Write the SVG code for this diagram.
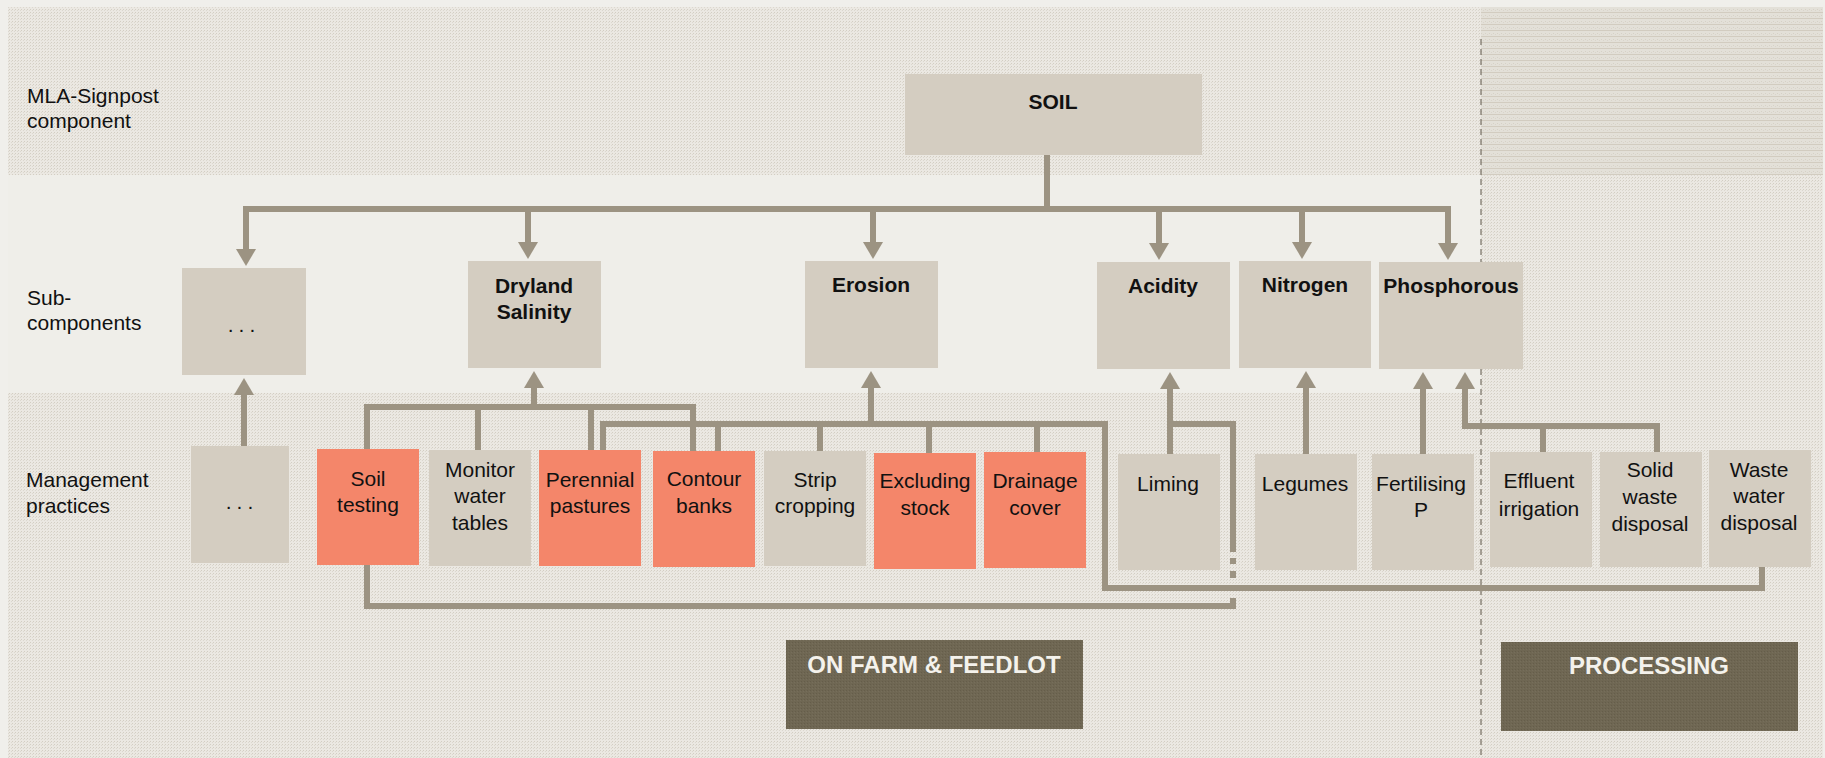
<svg xmlns="http://www.w3.org/2000/svg" width="1825" height="758" viewBox="0 0 1825 758">
<defs>
<pattern id="tex" width="3" height="3" patternUnits="userSpaceOnUse">
<rect width="3" height="3" fill="#ebe8e2"/>
<rect x="0" y="0" width="1" height="1" fill="#d3cec3"/>
<rect x="2" y="1" width="1" height="1" fill="#dcd8cf"/>
</pattern>
<pattern id="tex2" width="4" height="6" patternUnits="userSpaceOnUse">
<rect width="4" height="6" fill="#e3e0d8"/>
<rect x="0" y="0" width="4" height="1" fill="#d2ccc0"/>
<rect x="1" y="3" width="1" height="1" fill="#d6d1c6"/>
<rect x="3" y="4" width="1" height="1" fill="#d9d4ca"/>
</pattern>
<pattern id="texd" width="3" height="3" patternUnits="userSpaceOnUse">
<rect width="3" height="3" fill="#6f6753"/>
<rect x="0" y="0" width="1" height="1" fill="#655d4a"/>
<rect x="2" y="1" width="1" height="1" fill="#766e5b"/>
</pattern>
<marker id="ah" viewBox="0 0 17 20" refX="1" refY="10" markerWidth="17" markerHeight="20" markerUnits="userSpaceOnUse" orient="auto">
<path d="M0,0 L17,10 L0,20 z" fill="#9c9382"/>
</marker>
<style>
.gray{fill:#d4cdc1}
.orange{fill:#f4866a}
.dark{fill:url(#texd)}
.t{font-family:"Liberation Sans",Arial,Helvetica,sans-serif;font-size:21px;fill:#111;text-anchor:middle}
.b{font-weight:bold}
.side{font-family:"Liberation Sans",Arial,Helvetica,sans-serif;font-size:21px;fill:#111}
.w{font-family:"Liberation Sans",Arial,Helvetica,sans-serif;font-size:24px;font-weight:bold;fill:#f4f2ec;text-anchor:middle}
.c{fill:none;stroke:#9c9382;stroke-width:6;stroke-linejoin:miter;stroke-linecap:butt}
.a{marker-end:url(#ah)}
</style>
</defs>

<g id="background">
<rect x="0" y="0" width="1825" height="758" fill="#f0efeb"/>
<rect x="8" y="7" width="1473" height="168" fill="url(#tex)"/>
<rect x="8" y="175" width="1473" height="218" fill="#efeee9"/>
<rect x="8" y="393" width="1473" height="365" fill="url(#tex)"/>
<rect x="1481" y="7" width="342" height="168" fill="url(#tex2)"/>
<rect x="1481" y="175" width="342" height="583" fill="url(#tex)"/>
<line x1="1481" y1="39" x2="1481" y2="758" stroke="#5e5648" stroke-width="1" stroke-dasharray="6,4"/>
</g>

<g id="row-labels">
<text class="side" x="27" y="103">MLA-Signpost</text>
<text class="side" x="27" y="128">component</text>
<text class="side" x="27" y="305">Sub-</text>
<text class="side" x="27" y="330">components</text>
<text class="side" x="26" y="487">Management</text>
<text class="side" x="26" y="513">practices</text>
</g>

<g id="connectors">
<line class="c" x1="1047" y1="155" x2="1047" y2="209"/>
<line class="c" x1="243" y1="209" x2="1451" y2="209"/>
<line class="c a" x1="246" y1="206" x2="246" y2="250"/>
<line class="c a" x1="528" y1="206" x2="528" y2="243"/>
<line class="c a" x1="873" y1="206" x2="873" y2="243"/>
<line class="c a" x1="1159" y1="206" x2="1159" y2="244"/>
<line class="c a" x1="1302" y1="206" x2="1302" y2="243"/>
<line class="c a" x1="1448" y1="206" x2="1448" y2="244"/>

<line class="c a" x1="244" y1="446" x2="244" y2="394"/>

<path class="c" d="M367,449 V407 H693 V451"/>
<line class="c" x1="478" y1="407" x2="478" y2="450"/>
<line class="c" x1="591" y1="407" x2="591" y2="450"/>
<line class="c a" x1="534" y1="410" x2="534" y2="387"/>

<path class="c" d="M603,450 V424 H1105 V588 H1762 V567"/>
<line class="c" x1="718" y1="424" x2="718" y2="451"/>
<line class="c" x1="820" y1="424" x2="820" y2="451"/>
<line class="c" x1="929" y1="424" x2="929" y2="453"/>
<line class="c" x1="1037" y1="424" x2="1037" y2="452"/>
<line class="c a" x1="871" y1="427" x2="871" y2="387"/>

<line class="c a" x1="1170" y1="454" x2="1170" y2="388"/>
<path class="c" d="M1170,424 H1233 V552"/>
<line class="c" x1="1233" y1="558" x2="1233" y2="564"/>
<line class="c" x1="1233" y1="571" x2="1233" y2="578"/>
<path class="c" d="M367,565 V606 H1233 V598"/>

<line class="c a" x1="1306" y1="454" x2="1306" y2="387"/>

<line class="c a" x1="1423" y1="454" x2="1423" y2="388"/>
<path class="c" d="M1657,452 V426 H1465 V388"/>
<line class="c a" x1="1465" y1="390" x2="1465" y2="388"/>
<line class="c" x1="1543" y1="426" x2="1543" y2="452"/>
</g>

<g id="soil">
<rect class="gray" x="905" y="74" width="297" height="81"/>
<text class="t b" x="1053" y="109">SOIL</text>
</g>

<g id="sub-more">
<rect class="gray" x="182" y="268" width="124" height="107"/>
<text class="t" x="244" y="332" letter-spacing="5">...</text>
</g>
<g id="dryland-salinity">
<rect class="gray" x="468" y="261" width="133" height="107"/>
<text class="t b" x="534" y="293">Dryland</text>
<text class="t b" x="534" y="319">Salinity</text>
</g>
<g id="erosion">
<rect class="gray" x="805" y="261" width="133" height="107"/>
<text class="t b" x="871" y="292">Erosion</text>
</g>
<g id="acidity">
<rect class="gray" x="1097" y="262" width="133" height="107"/>
<text class="t b" x="1163" y="293">Acidity</text>
</g>
<g id="nitrogen">
<rect class="gray" x="1239" y="261" width="132" height="107"/>
<text class="t b" x="1305" y="292">Nitrogen</text>
</g>
<g id="phosphorous">
<rect class="gray" x="1379" y="262" width="144" height="107"/>
<text class="t b" x="1451" y="293">Phosphorous</text>
</g>

<g id="mp-more">
<rect class="gray" x="191" y="446" width="98" height="117"/>
<text class="t" x="242" y="509" letter-spacing="5">...</text>
</g>
<g id="soil-testing">
<rect class="orange" x="317" y="449" width="102" height="116"/>
<text class="t" x="368" y="486">Soil</text>
<text class="t" x="368" y="512">testing</text>
</g>
<g id="monitor-water-tables">
<rect class="gray" x="429" y="450" width="102" height="116"/>
<text class="t" x="480" y="477">Monitor</text>
<text class="t" x="480" y="503">water</text>
<text class="t" x="480" y="530">tables</text>
</g>
<g id="perennial-pastures">
<rect class="orange" x="539" y="450" width="102" height="116"/>
<text class="t" x="590" y="487">Perennial</text>
<text class="t" x="590" y="513">pastures</text>
</g>
<g id="contour-banks">
<rect class="orange" x="653" y="451" width="102" height="116"/>
<text class="t" x="704" y="486">Contour</text>
<text class="t" x="704" y="513">banks</text>
</g>
<g id="strip-cropping">
<rect class="gray" x="764" y="451" width="102" height="115"/>
<text class="t" x="815" y="487">Strip</text>
<text class="t" x="815" y="513">cropping</text>
</g>
<g id="excluding-stock">
<rect class="orange" x="874" y="453" width="102" height="116"/>
<text class="t" x="925" y="488">Excluding</text>
<text class="t" x="925" y="515">stock</text>
</g>
<g id="drainage-cover">
<rect class="orange" x="984" y="452" width="102" height="116"/>
<text class="t" x="1035" y="488">Drainage</text>
<text class="t" x="1035" y="515">cover</text>
</g>
<g id="liming">
<rect class="gray" x="1118" y="454" width="102" height="116"/>
<text class="t" x="1168" y="491">Liming</text>
</g>
<g id="legumes">
<rect class="gray" x="1255" y="454" width="102" height="116"/>
<text class="t" x="1305" y="491">Legumes</text>
</g>
<g id="fertilising-p">
<rect class="gray" x="1372" y="454" width="102" height="116"/>
<text class="t" x="1421" y="491">Fertilising</text>
<text class="t" x="1421" y="517">P</text>
</g>
<g id="effluent-irrigation">
<rect class="gray" x="1490" y="452" width="102" height="115"/>
<text class="t" x="1539" y="488">Effluent</text>
<text class="t" x="1539" y="516">irrigation</text>
</g>
<g id="solid-waste-disposal">
<rect class="gray" x="1600" y="452" width="102" height="115"/>
<text class="t" x="1650" y="477">Solid</text>
<text class="t" x="1650" y="504">waste</text>
<text class="t" x="1650" y="531">disposal</text>
</g>
<g id="waste-water-disposal">
<rect class="gray" x="1709" y="450" width="102" height="117"/>
<text class="t" x="1759" y="477">Waste</text>
<text class="t" x="1759" y="503">water</text>
<text class="t" x="1759" y="530">disposal</text>
</g>

<g id="on-farm-feedlot">
<rect class="dark" x="786" y="640" width="297" height="89"/>
<text class="w" x="934" y="673">ON FARM &amp; FEEDLOT</text>
</g>
<g id="processing">
<rect class="dark" x="1501" y="642" width="297" height="89"/>
<text class="w" x="1649" y="674">PROCESSING</text>
</g>
</svg>
